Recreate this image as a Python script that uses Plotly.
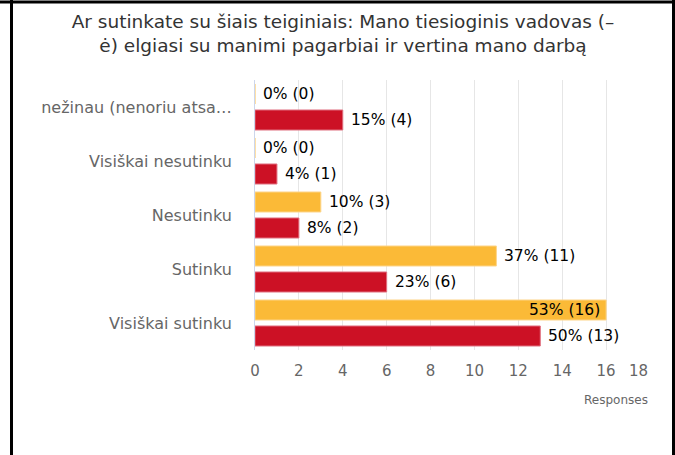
import plotly.graph_objects as go

# ---- data ----
categories = ["nežinau (nenoriu atsa…", "Visiškai nesutinku", "Nesutinku", "Sutinku", "Visiškai sutinku"]
yellow_values = [0, 0, 3, 11, 16]
red_values = [4, 1, 2, 6, 13]
x_tick_values = [0, 2, 4, 6, 8, 10, 12, 14, 16, 18]
x_tick_labels = ["0", "2", "4", "6", "8", "10", "12", "14", "16", "18"]
title_text = "Ar sutinkate su šiais teiginiais: Mano tiesioginis vadovas (–<br>ė) elgiasi su manimi pagarbiai ir vertina mano darbą"
axis_title = "Responses"


def make_labels(vals):
    total = sum(vals)
    return [f"{round(v / total * 100)}% ({v})" for v in vals]


yellow_labels = make_labels(yellow_values)
red_labels = make_labels(red_values)

# ---- styles ----
W, H = 675, 455
ML, MR, MT, MB = 255, 25, 80, 105
YELLOW = "#FBBA37"
RED = "#CC1125"
FONT = "DejaVu Sans"
LABEL_FONT = dict(family=FONT, size=15.5, color="#000000")

yellow_inside = [False, False, False, False, True]
red_inside = [False] * 5

fig = go.Figure()
fig.add_trace(go.Bar(
    y=categories, x=yellow_values, orientation="h",
    marker=dict(color=YELLOW, line=dict(color="#FDD58A", width=1)),
    hoverinfo="x+y",
))
fig.add_trace(go.Bar(
    y=categories, x=red_values, orientation="h",
    marker=dict(color=RED, line=dict(color="#E07080", width=1)),
    hoverinfo="x+y",
))

pw = W - ML - MR
ph = H - MT - MB


def px_x(p):
    return (p - ML) / pw


def px_y(p):
    return (H - MB - p) / ph


annotations = []
for vals, labels, inside, yshift in ((yellow_values, yellow_labels, yellow_inside, 13),
                                      (red_values, red_labels, red_inside, -13)):
    for cat, v, lab, ins in zip(categories, vals, labels, inside):
        annotations.append(dict(
            x=v, y=cat, xref="x", yref="y", text=lab, showarrow=False,
            xanchor="right" if ins else "left", xshift=-4 if ins else 6,
            yanchor="middle", yshift=yshift, font=LABEL_FONT,
        ))

annotations.append(dict(text=axis_title, xref="paper", yref="paper", x=1, y=px_y(400),
                        xanchor="right", yanchor="middle", showarrow=False,
                        font=dict(family=FONT, size=12, color="#666666")))
# last tick label, pulled inward as in the original
annotations.append(dict(text=x_tick_labels[-1], xref="paper", yref="paper", x=px_x(638), y=px_y(371),
                        xanchor="center", yanchor="middle", showarrow=False,
                        font=dict(family=FONT, size=15, color="#666666")))

border = dict(color="black", width=3)
shapes = [
    dict(type="line", xref="paper", yref="paper", x0=px_x(0), x1=px_x(675), y0=px_y(2), y1=px_y(2), line=border),
    dict(type="line", xref="paper", yref="paper", x0=px_x(11.5), x1=px_x(11.5), y0=px_y(0), y1=px_y(455), line=border),
    dict(type="line", xref="paper", yref="paper", x0=px_x(673.5), x1=px_x(673.5), y0=px_y(0), y1=px_y(455), line=border),
]

fig.update_layout(
    width=W, height=H,
    margin=dict(l=ML, r=MR, t=MT, b=MB, autoexpand=False),
    paper_bgcolor="white", plot_bgcolor="white",
    barmode="group", bargap=0.037, bargroupgap=0.23,
    showlegend=False,
    font=dict(family=FONT),
    title=dict(text=title_text, x=343 / W, xanchor="center", y=1 - 27.5 / H, yanchor="middle",
               font=dict(family=FONT, size=18.5, color="#333333")),
    xaxis=dict(range=[0, 18], tickvals=x_tick_values, ticktext=x_tick_labels[:-1] + [""],
               showgrid=True, gridcolor="#e6e6e6", gridwidth=1, zeroline=False,
               showline=False, ticks="", ticklabelstandoff=10,
               tickfont=dict(family=FONT, size=15, color="#666666"), fixedrange=True),
    yaxis=dict(autorange="reversed", showline=True, linecolor="#ccd6eb", linewidth=1,
               showgrid=False, ticks="", ticklabelstandoff=19,
               tickfont=dict(family=FONT, size=16, color="#666666"), fixedrange=True),
    shapes=shapes,
    annotations=annotations,
)

fig.write_html("out.html", config={"displayModeBar": False},
               post_script="document.body.style.margin='0';document.body.style.overflow='hidden';")
